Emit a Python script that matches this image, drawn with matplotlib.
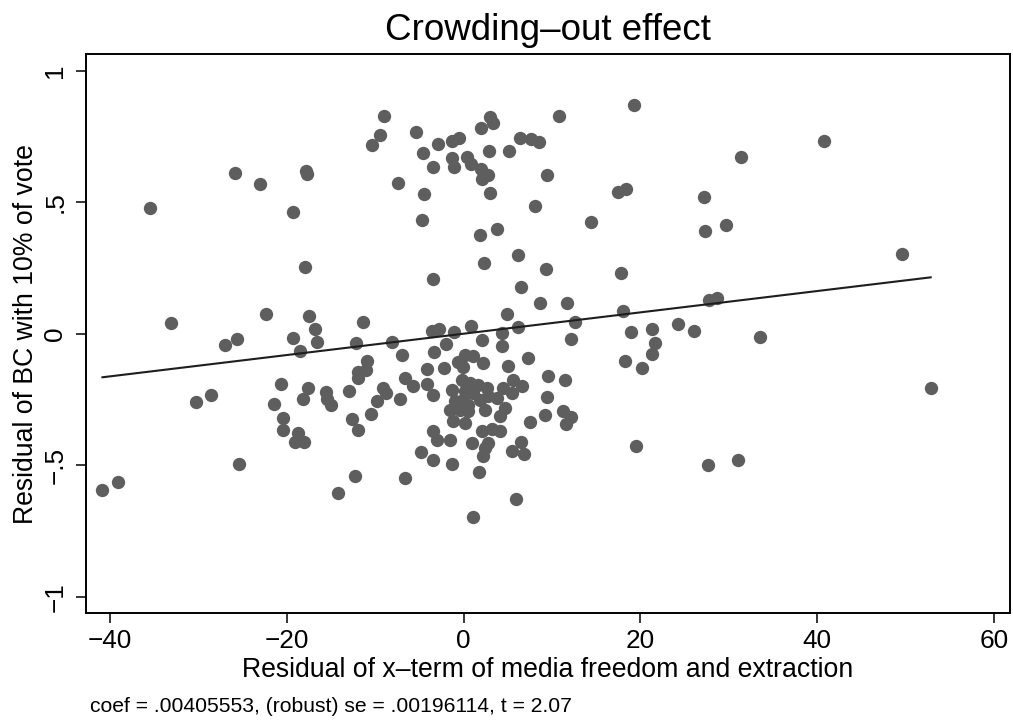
import matplotlib
matplotlib.use("Agg")
import matplotlib.pyplot as plt
import numpy as np

# ---- data ----
x_resid = [-8.97,-9.48,-10.35,-5.40,-4.58,-2.88,-1.36,-0.53,-3.51,-1.29,
           -1.10,0.37,0.83,1.96,2.98,3.35,2.90,1.93,2.04,2.79,
           5.16,6.34,7.62,8.56,10.74,9.47,-7.36,-4.53,2.94,8.04,
           -4.69,1.88,3.74,6.15,2.30,9.29,-3.44,6.49,8.61,11.70,
           4.90,-3.62,-2.80,-1.10,0.86,2.04,4.30,6.18,-8.09,-2.00,4.39,
           -25.82,-23.03,-17.83,-17.67,-35.45,-19.33,-17.94,-33.11,-22.39,-17.49,
           -16.76,-19.27,-16.56,-11.37,-12.20,-25.64,-27.03,-18.54,
           -10.87,-11.94,-10.99,-11.94,-20.61,-17.60,-18.17,-15.59,-15.45,-14.95,
           -12.96,-9.11,-8.80,-9.82,-10.42,-7.18,-28.54,-30.32,-21.48,-20.43,
           -20.39,-18.73,-19.03,-18.05,-12.57,-11.89,-25.37,-12.28,-14.20,-40.85,-39.07,
           -3.36,-6.99,7.25,-4.16,-2.23,-0.61,0.15,1.09,-0.05,2.22,
           5.05,9.58,11.53,-6.65,-5.71,-4.19,-3.44,-1.36,-0.23,0.71,
           1.65,0.15,1.09,2.60,4.48,5.62,6.57,5.44,-0.99,-0.05,
           0.52,1.85,2.79,3.74,-1.55,-0.42,0.52,2.41,4.68,4.11,
           9.47,9.21,7.51,11.25,12.15,11.59,-1.18,0.15,2.04,3.17,
           4.11,-3.44,-3.06,-1.55,0.91,2.79,2.41,6.49,5.44,6.86,
           -4.76,-3.44,-1.33,2.22,1.77,-6.57,5.96,1.02,
           19.29,40.72,31.40,17.51,18.35,27.18,14.42,27.36,29.71,49.64,
           17.81,12.60,18.07,27.81,28.69,18.95,21.29,24.27,26.12,21.70,
           12.15,33.56,21.29,18.27,20.23,52.84,19.48,27.67,31.10]

y_resid = [0.828,0.757,0.716,0.767,0.687,0.720,0.733,0.743,0.632,0.667,
           0.632,0.672,0.645,0.781,0.825,0.803,0.695,0.626,0.589,0.602,
           0.696,0.743,0.739,0.728,0.828,0.604,0.573,0.531,0.535,0.486,
           0.434,0.374,0.400,0.300,0.267,0.247,0.207,0.179,0.116,0.116,
           0.075,0.010,0.019,0.005,0.030,-0.023,0.002,0.025,-0.030,-0.039,-0.045,
           0.610,0.568,0.619,0.607,0.478,0.464,0.253,0.040,0.075,0.066,
           0.017,-0.016,-0.033,0.043,-0.034,-0.020,-0.043,-0.065,
           -0.104,-0.144,-0.138,-0.169,-0.190,-0.207,-0.247,-0.222,-0.247,-0.272,
           -0.217,-0.207,-0.226,-0.257,-0.304,-0.247,-0.232,-0.260,-0.267,-0.320,
           -0.368,-0.377,-0.412,-0.412,-0.324,-0.368,-0.496,-0.542,-0.606,-0.594,-0.562,
           -0.071,-0.081,-0.093,-0.134,-0.129,-0.106,-0.081,-0.083,-0.125,-0.112,
           -0.122,-0.160,-0.175,-0.169,-0.197,-0.192,-0.233,-0.213,-0.175,-0.188,
           -0.194,-0.219,-0.226,-0.207,-0.207,-0.175,-0.198,-0.226,-0.257,-0.251,
           -0.270,-0.251,-0.238,-0.244,-0.289,-0.289,-0.295,-0.289,-0.282,-0.314,
           -0.242,-0.308,-0.335,-0.292,-0.318,-0.345,-0.333,-0.339,-0.371,-0.364,
           -0.371,-0.371,-0.406,-0.406,-0.414,-0.414,-0.433,-0.411,-0.446,-0.456,
           -0.448,-0.479,-0.495,-0.465,-0.526,-0.549,-0.630,-0.697,
           0.869,0.733,0.672,0.539,0.550,0.520,0.425,0.389,0.414,0.302,
           0.229,0.044,0.085,0.128,0.136,0.007,0.017,0.036,0.010,-0.034,
           -0.022,-0.014,-0.078,-0.105,-0.131,-0.206,-0.428,-0.500,-0.481]

coef = 0.00405553
x_ticks = [-40, -20, 0, 20, 40, 60]
x_ticklabels = ["\u221240", "\u221220", "0", "20", "40", "60"]
y_ticks = [1, 0.5, 0, -0.5, -1]
y_ticklabels = ["1", ".5", "0", "\u2212.5", "\u22121"]

title = "Crowding\u2013out effect"
xlabel = "Residual of x\u2013term of media freedom and extraction"
ylabel = "Residual of BC with 10% of vote"
note = "coef = .00405553, (robust) se = .00196114, t = 2.07"

# ---- figure ----
plt.rcParams['font.family'] = ['Liberation Sans', 'DejaVu Sans']
fig = plt.figure(figsize=(10.13, 7.21), dpi=100)
ax = fig.add_axes([0.0849, 0.1494, 0.9121, 0.7757])

ax.plot(x_resid, y_resid, 'o', color='#5e5e5e', markersize=9.6,
        markeredgewidth=0, zorder=3)
xs = np.array([min(x_resid), max(x_resid)])
ax.plot(xs, coef * xs, color='#1e1e1e', linewidth=1.5, zorder=4)

ax.set_xlim(-42.71, 61.81)
ax.set_ylim(-1.063, 1.0635)

ax.set_xticks(x_ticks)
ax.set_xticklabels(x_ticklabels, fontsize=18.8)
ax.set_yticks(y_ticks)
ax.set_yticklabels(y_ticklabels, fontsize=18.8, rotation=90, va='center')
ax.tick_params(axis='both', direction='out', length=7.5, width=1.1, color='black')
ax.tick_params(axis='x', pad=4)
ax.tick_params(axis='y', pad=6)

for s in ax.spines.values():
    s.set_linewidth(1.4)
    s.set_color('black')

ax.set_title(title, fontsize=26.5, pad=10)
ax.set_xlabel(xlabel, fontsize=19.2, labelpad=3)
ax.set_ylabel(ylabel, fontsize=19.2, labelpad=3)

fig.text(90 / 1013, 1 - 706 / 721, note, fontsize=15.2, ha='left', va='center')

fig.savefig("out.png", dpi=100, facecolor='white')
